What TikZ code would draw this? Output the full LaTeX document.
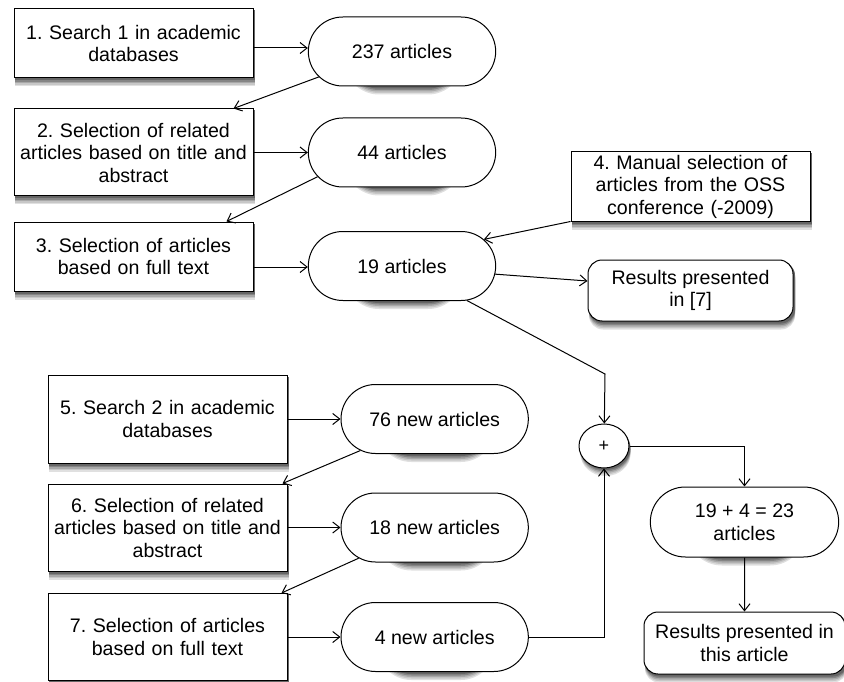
\documentclass[tikz,border=0pt]{standalone}
\usepackage{fontspec}
\setmainfont{Liberation Sans}
\frenchspacing
\usetikzlibrary{shapes.misc, shapes.geometric, arrows.meta, positioning, calc, backgrounds}
\tikzset{
    stepbox/.style={
        rectangle,
        draw=black,
        fill=white,
        text width=229pt,
        inner xsep=5pt,
        inner ysep=2pt,
        align=center,
        minimum height=69pt,
    },
    count/.style={
        rounded rectangle,
        draw=black,
        fill=white,
        align=center,
        minimum width=194pt,
        minimum height=69pt,
    },
    result/.style={
        rectangle,
        rounded corners=14pt,
        draw=black,
        fill=white,
        align=center,
        minimum width=205pt,
        minimum height=61pt,
    },
    sum/.style={
        ellipse,
        draw=black,
        fill=white,
        minimum width=50pt,
        minimum height=44pt,
        inner sep=0pt,
        font=\fontsize{18}{20}\selectfont,
    },
}
\begin{document}
\begin{tikzpicture}[x=1pt,y=-1pt,>={Straight Barb[length=7pt,width=11pt]},line width=1pt,
    font=\fontsize{19.6}{22.5}\selectfont]
          \useasboundingbox (0,0) rectangle (844,682);

          % first search
          \node [stepbox] (b1) at (133.5,43.5) {1. Search 1 in academic\\databases};
          \node [stepbox, minimum height=87pt] (b2) at (133.5,152.5) {2. Selection of related\\articles based on title and\\abstract};
          \node [stepbox] (b3) at (133.5,256.5) {3. Selection of articles\\based on full text};
          \node [count] (p1) at (402,51.5) {237 articles};
          \node [count] (p2) at (402,152.5) {44 articles};
          \node [count] (p3) at (402,266) {19 articles};
          \node [stepbox] (b4) at (690.5,186.5) {4. Manual selection of\\articles from the OSS\\conference (-2009)};
          \node [result] (r7) at (690.5,290.5) {Results presented\\in [7]};

          % second search
          \node [stepbox, minimum height=88pt] (b5) at (167.5,419) {5. Search 2 in academic\\databases};
          \node [stepbox, minimum height=87pt] (b6) at (167.5,527.5) {6. Selection of related\\articles based on title and\\abstract};
          \node [stepbox, minimum height=87pt] (b7) at (167.5,637) {7. Selection of articles\\based on full text};
          \node [count, right=53pt of b5] (p5) {76 new articles};
          \node [count, right=53pt of b6] (p6) {18 new articles};
          \node [count, right=53pt of b7] (p4) {4 new articles};

          % merge
          \node [sum] (plus) at (604,446) {+};
          \node [count, minimum width=195pt, minimum height=70pt] (p23) at (744.5,522) {19 + 4 = 23\\articles};
          \node [result, minimum width=201pt, minimum height=62pt, below=54pt of p23] (rA) {Results presented in\\this article};
          \coordinate (knee) at (605,374);

          % shadows
          \begin{scope}[on background layer]
            \foreach \c/\dy in {12/-8, 22/-6.5, 34/-5, 48/-3.5, 60/-2} {
              \foreach \n/\r in {b1/0, b2/0, b3/0, b4/0, b5/0, b6/0, b7/0, p1/34.5, p2/34.5, p3/34.5, p5/34.5, p6/34.5, p4/34.5, p23/35, r7/14, rA/14}
                \fill [black!\c, rounded corners=\r pt] ($(\n.south west)+(1.5pt,\dy pt)$)
                    rectangle ($(\n.north east)+(1.5pt,\dy pt)$);
              \fill [black!\c] ($(plus.center)+(1.5pt,\dy pt)$) ellipse [x radius=25pt, y radius=22pt];
            }
          \end{scope}

          \path[->] ([yshift=-4.5pt]b1.east) edge ([yshift=3.5pt]p1.west);
          \path[->] (b2) edge (p2);
          \path[->] ([yshift=-10.5pt]b3.east) edge ([yshift=-1pt]p3.west);
          \path[->] (p1.197) edge ([xshift=-20pt]b2.north east);
          \path[->] (p2.196) edge ([xshift=-27pt]b3.north east);
          \path[->] (b4.south west) edge (p3.18);
          \path[->] (p3.-5) edge ([yshift=9.5pt]r7.west);
          \draw[->] (p3.-28) -- (knee) -- (plus);

          \path[->] (b5) edge (p5);
          \path[->] (b6) edge (p6);
          \path[->] (b7) edge (p4);
          \path[->] (p5.203) edge ([xshift=-5pt]b6.north east);
          \path[->] (p6.202) edge ([xshift=-6pt]b7.north east);
          \draw[->] (p4) -| (plus);
          \draw[->] (plus) -| (p23);
          \path[->] (p23) edge (rA);
        \end{tikzpicture}
\end{document}
